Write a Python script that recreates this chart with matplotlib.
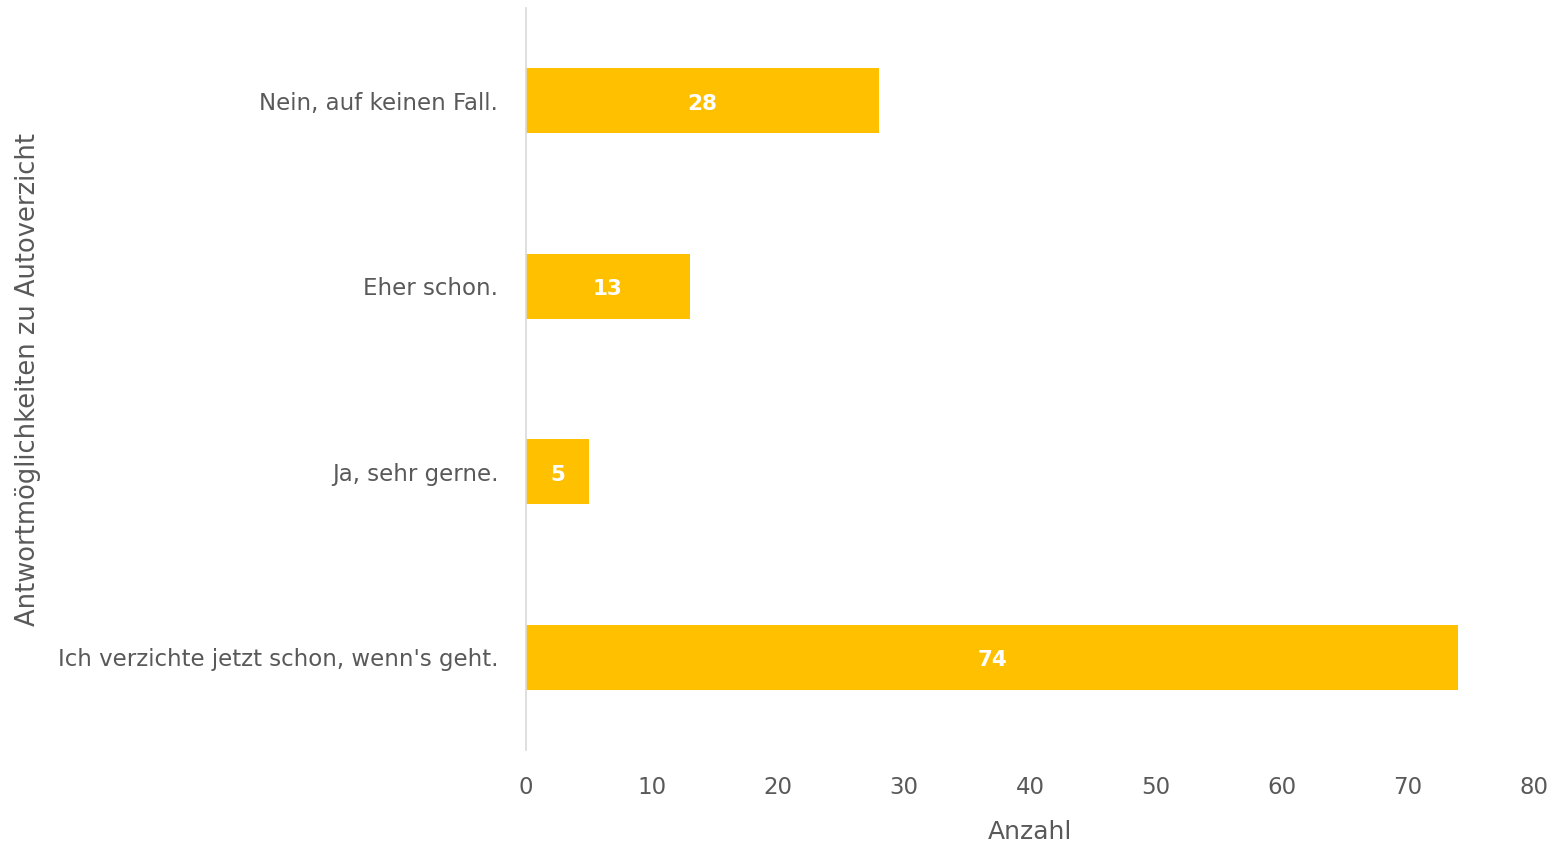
import matplotlib.pyplot as plt

categories = ["Ich verzichte jetzt schon, wenn's geht.", "Ja, sehr gerne.", "Eher schon.", "Nein, auf keinen Fall."]
counts = [74, 5, 13, 28]
x_ticks = [0, 10, 20, 30, 40, 50, 60, 70, 80]

plt.rcParams['font.family'] = ['DejaVu Sans']
grey = '#595959'

fig = plt.figure(figsize=(15.56, 8.47), dpi=100)
ax = fig.add_axes([526 / 1556, 1 - 750 / 847, 1008 / 1556, 742 / 847])

bars = ax.barh(range(len(categories)), counts, height=0.35, color='#FFC000')
for b, v in zip(bars, counts):
    ax.text(b.get_width() / 2, b.get_y() + b.get_height() / 2 - 0.015, str(v),
            ha='center', va='center', color='white', fontsize=15.5, fontweight='bold')

ax.set_xlim(0, 80)
ax.set_ylim(-0.5, len(categories) - 0.5)
ax.set_xticks(x_ticks)
ax.set_yticks(range(len(categories)))
ax.set_yticklabels(categories)
ax.tick_params(axis='both', length=0, labelsize=16.5, labelcolor=grey)
ax.tick_params(axis='x', pad=19)
ax.tick_params(axis='y', pad=20)

for s in ['top', 'right', 'bottom']:
    ax.spines[s].set_visible(False)
ax.spines['left'].set_color('#D9D9D9')
ax.spines['left'].set_linewidth(1.2)

ax.set_xlabel('Anzahl', fontsize=18, color=grey, labelpad=15)
ax.set_ylabel('Antwortmöglichkeiten zu Autoverzicht', fontsize=18.5, color=grey)
ax.yaxis.set_label_coords(-(526 - 41) / 1008, 0.5)

fig.savefig('out.png', dpi=100)
